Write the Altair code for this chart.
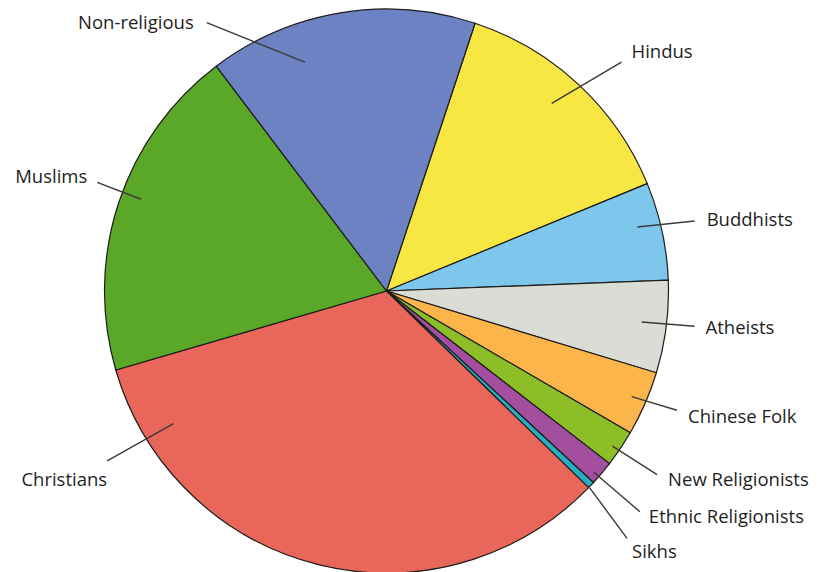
import math
import altair as alt
import pandas as pd

# ---- data ----
categories = ["Hindus", "Buddhists", "Atheists", "Chinese Folk", "New Religionists",
              "Ethnic Religionists", "Sikhs", "Christians", "Muslims", "Non-religious"]
shares = [13.7, 5.6, 5.3, 3.7, 2.1, 1.4, 0.4, 33.2, 19.2, 15.4]
colors = ["#F8E743", "#7DC7EC", "#DCDCD6", "#FBB54B", "#8DBE27",
          "#A34E9F", "#27AEC3", "#E9665B", "#5BA829", "#6D82C3"]

# ---- label layout (offsets from each slice's mid-angle, degrees; radii and nudges in px) ----
in_shift = [-1.6, -2.0, -0.4, -0.2, 0.5, 0.9, 0.6, 44.1, 2.2, -10.2]
out_shift = [2.8, -0.5, -0.8, -1.2, 0.2, 0.8, 2.3, 44.7, 2.3, -24.4]
in_r = [250, 259, 257, 267, 274, 275, 283, 251, 262, 243]
out_r = [328, 316, 310, 314, 327, 336, 345, 327, 309, 323]
label_dx = [10, 12, 11, 11, 11, 9, 5, 0, -10, -13]
label_dy = [-10, -1, 2, 7, 5, 5, 14, 19, -5, 0]
side = ["left"] * 7 + ["right"] * 3

CX, CY, R = 378.5, 283, 282
START_DEG = 18.3
START = math.radians(START_DEG)

df = pd.DataFrame({
    "cat": categories, "share": shares, "idx": list(range(len(categories))),
    "in_shift": in_shift, "out_shift": out_shift, "in_r": in_r, "out_r": out_r,
    "ldx": label_dx, "ldy": label_dy, "side": side,
})

pie = alt.Chart(df).mark_arc(outerRadius=R, stroke="#1c1c1c", strokeWidth=1.2).encode(
    theta=alt.Theta("share:Q", stack=True,
                    scale=alt.Scale(range=[START, START + 2 * math.pi])),
    color=alt.Color("cat:N", scale=alt.Scale(domain=categories, range=colors), legend=None),
    order=alt.Order("idx:Q"),
    x=alt.value(CX),
    y=alt.value(CY),
)

geo = alt.Chart(df).transform_window(
    cum="sum(share)", sort=[alt.SortField("idx")], frame=[None, 0]
).transform_joinaggregate(
    total="sum(share)"
).transform_calculate(
    mid=f"{START_DEG} + 360 * (datum.cum - datum.share / 2) / datum.total"
).transform_calculate(
    ai="(datum.mid + datum.in_shift) * PI / 180",
    ao="(datum.mid + datum.out_shift) * PI / 180",
).transform_calculate(
    x1=f"{CX} + datum.in_r * sin(datum.ai)",
    y1=f"{CY} - datum.in_r * cos(datum.ai)",
    x2=f"{CX} + datum.out_r * sin(datum.ao)",
    y2=f"{CY} - datum.out_r * cos(datum.ao)",
).transform_calculate(
    lx="datum.x2 + datum.ldx",
    ly="datum.y2 + datum.ldy",
)

leaders = geo.mark_rule(color="#3a3a3a", strokeWidth=1.4).encode(
    x=alt.X("x1:Q", scale=None, axis=None),
    y=alt.Y("y1:Q", scale=None, axis=None),
    x2="x2:Q",
    y2="y2:Q",
)

text_kw = dict(font="Open Sans", fontSize=18.5, color="#1e1e1e", baseline="middle")
labels_left = geo.transform_filter("datum.side == 'left'").mark_text(align="left", **text_kw).encode(
    x=alt.X("lx:Q", scale=None, axis=None),
    y=alt.Y("ly:Q", scale=None, axis=None),
    text="cat:N",
)
labels_right = geo.transform_filter("datum.side == 'right'").mark_text(align="right", **text_kw).encode(
    x=alt.X("lx:Q", scale=None, axis=None),
    y=alt.Y("ly:Q", scale=None, axis=None),
    text="cat:N",
)

chart = alt.layer(pie, leaders, labels_left, labels_right).properties(
    width=804, height=564, padding=0, autosize="none"
).configure_view(stroke=None)

chart.save("out.html", embed_options={"renderer": "svg", "actions": False})
